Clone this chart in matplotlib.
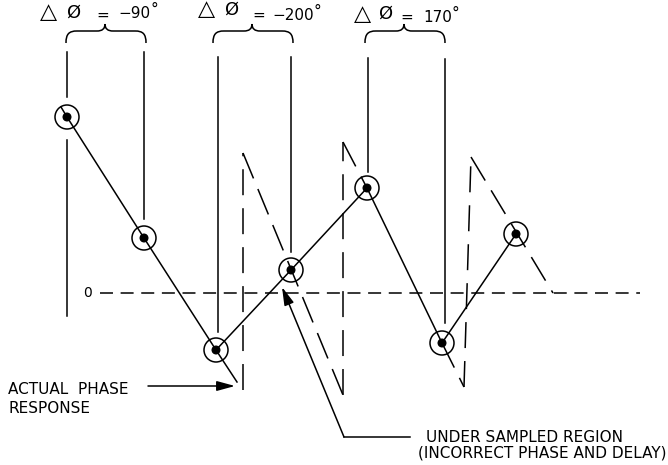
import matplotlib
matplotlib.use('Agg')
import matplotlib.pyplot as plt
from matplotlib.path import Path
from matplotlib.patches import PathPatch, Circle

# Próbki (środki kółek), współrzędne w pikselach rysunku.
sample_x = [67, 144, 216, 291, 367, 442, 516]
sample_y = [117, 238, 350, 270, 188, 343, 234]

# Rzeczywista odpowiedź fazowa: odcinki ciągłe i fragmenty przerywane.
solid_x = [[61, 67], [216, 237]]
solid_y = [[107, 117], [350, 382]]
ramp_x = [[243, 343], [343, 367], [442, 464], [471, 553]]
ramp_y = [[153, 395], [142, 188], [343, 387], [157, 293]]
jump_x = [[243, 243], [343, 343], [464, 471]]
jump_y = [[390, 153], [395, 142], [387, 157]]

# Pionowe linie pomocnicze nad próbkami.
guide_x = [67, 67, 144, 218, 291, 368, 445]
guide_top = [52, 140, 52, 57, 57, 58, 59]
guide_bottom = [97, 316, 219, 332, 252, 172, 323]

# Klamry i opisy różnicy faz.
brace_left = [66, 213, 365]
brace_right = [146, 293, 445]
phase_labels = ['\u221290', '\u2212200', '170']
label_x = [118, 272, 423]
label_base = [18, 20, 22]
tri_x = [48, 207, 362]
tri_y = [12, 9, 14]
phi_x = [73, 231, 385]
phi_y = [13, 10, 14]
eq_x = [103, 259, 407]
eq_y = [15, 15, 17]

zero_y = 293

fig = plt.figure(figsize=(6.68, 4.65), dpi=100)
ax = fig.add_axes([0, 0, 1, 1])
ax.set_xlim(0, 668)
ax.set_ylim(465, 0)
ax.axis('off')

lw = 1.1

# Linia zera.
ax.plot([100, 640], [zero_y, zero_y], color='black', lw=lw, dashes=(8.5, 5))
ax.text(88, zero_y, '0', fontsize=10, ha='center', va='center')

# Linie pomocnicze.
for x, y0, y1 in zip(guide_x, guide_top, guide_bottom):
    ax.plot([x, x], [y0, y1], color='black', lw=lw)

# Połączenia próbek (linia ciągła).
ax.plot(sample_x, sample_y, color='black', lw=lw)
for xs, ys in zip(solid_x, solid_y):
    ax.plot(xs, ys, color='black', lw=lw)

# Odpowiedź rzeczywista poza próbkami (przerywana).
for xs, ys in zip(ramp_x, ramp_y):
    ax.plot(xs, ys, color='black', lw=lw, dashes=(18, 7.5))
for xs, ys in zip(jump_x, jump_y):
    ax.plot(xs, ys, color='black', lw=lw, dashes=(17, 8.5))

# Kółka z kropkami.
for x, y in zip(sample_x, sample_y):
    ax.add_patch(Circle((x, y), 12, fill=False, ec='black', lw=lw))
    ax.add_patch(Circle((x, y), 3.8, color='black'))

# Klamry.
for x0, x1 in zip(brace_left, brace_right):
    xm = (x0 + x1) / 2 - 1
    verts = [(x0, 43), (x0, 34), (x0 + 3, 31), (x0 + 11, 31),
             (xm - 8, 31),
             (xm - 3, 31), (xm, 29), (xm, 24),
             (xm, 29), (xm + 3, 31), (xm + 8, 31),
             (x1 - 11, 31),
             (x1 - 3, 31), (x1, 34), (x1, 43)]
    codes = [Path.MOVETO, Path.CURVE4, Path.CURVE4, Path.CURVE4,
             Path.LINETO,
             Path.CURVE4, Path.CURVE4, Path.CURVE4,
             Path.CURVE4, Path.CURVE4, Path.CURVE4,
             Path.LINETO,
             Path.CURVE4, Path.CURVE4, Path.CURVE4]
    ax.add_patch(PathPatch(Path(verts, codes), fill=False, ec='black', lw=lw))

# Opisy delta phi.
for i in range(3):
    ax.text(tri_x[i], tri_y[i], '\u25b3', fontsize=16, ha='center', va='center')
    ax.text(phi_x[i], phi_y[i], '\u00d8', fontsize=13, ha='center', va='center')
    ax.text(eq_x[i], eq_y[i], '=', fontsize=11, ha='center', va='center')
    t = ax.text(label_x[i], label_base[i], phase_labels[i], fontsize=11,
                ha='left', va='baseline')
    ax.annotate('\u00b0', xy=(1, 1), xycoords=t, xytext=(0, 3),
                textcoords='offset points', fontsize=11, ha='left', va='top')

# Strzałka "ACTUAL PHASE RESPONSE".
ax.annotate('', xy=(235, 386), xytext=(148, 386),
            arrowprops=dict(arrowstyle='-|>,head_length=1.1,head_width=0.3',
                            mutation_scale=10, color='black', lw=lw,
                            shrinkA=0, shrinkB=0))
ax.text(8, 394, 'ACTUAL  PHASE', fontsize=11, ha='left', va='baseline')
ax.text(8, 413, 'RESPONSE', fontsize=11, ha='left', va='baseline')

# Odnośnik "UNDER SAMPLED REGION".
ax.plot([344, 410], [437, 437], color='black', lw=lw)
ax.annotate('', xy=(282, 287), xytext=(344, 437),
            arrowprops=dict(arrowstyle='-|>,head_length=1.1,head_width=0.3',
                            mutation_scale=10, color='black', lw=lw,
                            shrinkA=0, shrinkB=0))
ax.text(426, 442, 'UNDER SAMPLED REGION', fontsize=11, ha='left', va='baseline')
ax.text(418, 457, '(INCORRECT PHASE AND DELAY)', fontsize=11, ha='left',
        va='baseline')

fig.savefig('out.png', dpi=100)
